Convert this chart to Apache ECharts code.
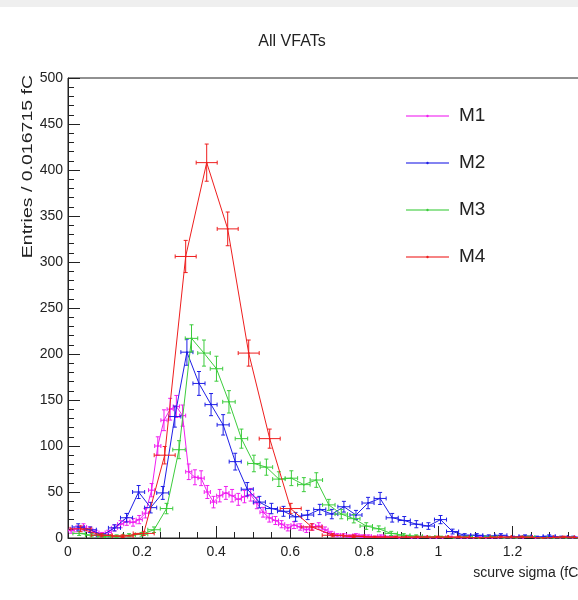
<!DOCTYPE html>
<html><head><meta charset="utf-8">
<script src="https://cdn.jsdelivr.net/npm/echarts@6/dist/echarts.min.js"></script>
<style>html,body{margin:0;padding:0;background:#fff}#c{width:578px;height:600px}</style>
</head><body><div id="c"></div>
<script>
// ---- data ----
const seriesNames = ['M1', 'M2', 'M3', 'M4'];
// bin contents (entries)
const m1Values = [8,10,12,9,6,4,6,11,15,18,17,20,27,52,100,128,140,143,133,72,66,65,50,39,46,49,46,42,45,47,38,28,22,19,15,11,14,12,9,12,13,9,5,3,3,2,3,2,2,1,2,1,1,0,1,0,0,1,0,0,0,1,0,0,0,0,1,0,0,0,0,0,0,0,1,0,0,0,0,0,0,0,0,0];
const m2Values = [12,9,3,11,22,50,33,49,132,202,168,145,123,83,53,39,32,29,23,25,31,26,34,25,38,43,22,19,15,13,20,7,3,3,2,3,1,2,1,2,1,1];
const m3Values = [5,3,2,2,3,4,9,32,96,217,201,184,148,108,81,77,64,65,58,63,36,26,21,13,10,5,3,2,1,1,0,1,0,1,0,0,1,0,0,0,0];
const m4Values = [10,3,2,5,90,306,408,336,201,108,32,12,3,2,1,1,1,1,1,0,1,1,0,1,0];
// first bin centre and bin width (fC) of each histogram
const binStart = [0.0084, 0.0276, 0.0301, 0.0342];
const binWidth = [0.016715, 0.0326, 0.0337, 0.0567];
const xTickLabels = ['0', '0.2', '0.4', '0.6', '0.8', '1', '1.2', '1.4'];
const yTickLabels = ['0','50','100','150','200','250','300','350','400','450','500'];

// ---- chart ----
const allValues = [m1Values, m2Values, m3Values, m4Values];
const colors = ['#f01ef0', '#1e1ee6', '#3ccc3c', '#ee1e1e'];
const NARROW = '"Liberation Sans Narrow","Arial Narrow","Liberation Sans",Arial,sans-serif';
const REG = '"Liberation Sans",Arial,sans-serif';

function points(k) {
  return allValues[k].map((v, i) => [binStart[k] + i * binWidth[k], v]);
}
function errData(k) {
  return allValues[k].map((v, i) => [binStart[k] + i * binWidth[k], v, binWidth[k] / 2, Math.sqrt(v)]);
}
function makeRender(color) {
  return function (params, api) {
    const x = api.value(0), y = api.value(1), xe = api.value(2), ye = api.value(3);
    const l = api.coord([x - xe, y]), r = api.coord([x + xe, y]);
    const t = api.coord([x, y + ye]), b = api.coord([x, y - ye]);
    const c = 2;
    const st = { stroke: color, lineWidth: 1, fill: null };
    const children = [
      { type: 'line', shape: { x1: l[0], y1: l[1], x2: r[0], y2: r[1] }, style: st },
      { type: 'line', shape: { x1: l[0], y1: l[1] - c, x2: l[0], y2: l[1] + c }, style: st },
      { type: 'line', shape: { x1: r[0], y1: r[1] - c, x2: r[0], y2: r[1] + c }, style: st }
    ];
    if (ye > 0) {
      children.push(
        { type: 'line', shape: { x1: t[0], y1: t[1], x2: b[0], y2: b[1] }, style: st },
        { type: 'line', shape: { x1: t[0] - c, y1: t[1], x2: t[0] + c, y2: t[1] }, style: st },
        { type: 'line', shape: { x1: b[0] - c, y1: b[1], x2: b[0] + c, y2: b[1] }, style: st }
      );
    }
    return { type: 'group', children: children };
  };
}

const series = [];
seriesNames.forEach((name, k) => {
  series.push({
    name: name, type: 'line', data: points(k), symbol: 'circle', symbolSize: 2,
    showSymbol: true, lineStyle: { color: colors[k], width: 1 }, itemStyle: { color: colors[k] },
    clip: true, animation: false, z: 2 + k * 2
  });
  series.push({
    name: name + ' err', type: 'custom', data: errData(k), renderItem: makeRender(colors[k]),
    clip: true, animation: false, z: 3 + k * 2
  });
});

const chart = echarts.init(document.getElementById('c'), null, { renderer: 'canvas' });
chart.setOption({
  backgroundColor: '#fff',
  animation: false,
  grid: { left: 68, top: 78, width: 518.6, height: 460, show: true, borderColor: '#222', borderWidth: 1, outerBoundsMode: 'none', containLabel: false },
  legend: {
    data: seriesNames, orient: 'vertical', left: 405, top: 106, padding: 0,
    itemWidth: 43, itemHeight: 3, itemGap: 27,
    textStyle: { fontFamily: NARROW, fontSize: 19, color: '#222', lineHeight: 20, padding: [0, 0, 0, 5] },
    lineStyle: { width: 2, opacity: 0.55 }
  },
  xAxis: {
    type: 'value', min: 0, max: 1.4, interval: 0.2,
    axisLine: { show: true, onZero: false, lineStyle: { color: '#222', width: 1 } },
    axisTick: { show: true, inside: true, length: 12, lineStyle: { color: '#222' } },
    minorTick: { show: true, splitNumber: 4, length: 6, lineStyle: { color: '#222' } },
    splitLine: { show: false }, minorSplitLine: { show: false },
    axisLabel: { margin: 7, fontFamily: NARROW, fontSize: 14, color: '#222', showMaxLabel: false,
      formatter: v => xTickLabels[Math.round(v / 0.2)] || '' }
  },
  yAxis: {
    type: 'value', min: 0, max: 500, interval: 50,
    axisLine: { show: true, lineStyle: { color: '#222', width: 1 } },
    axisTick: { show: true, inside: true, length: 12, lineStyle: { color: '#222' } },
    minorTick: { show: true, splitNumber: 5, length: 6, lineStyle: { color: '#222' } },
    splitLine: { show: false }, minorSplitLine: { show: false },
    axisLabel: { margin: 5, fontFamily: NARROW, fontSize: 14, color: '#222',
      formatter: v => yTickLabels[Math.round(v / 50)] || '' }
  },
  graphic: [
    { type: 'rect', shape: { x: 0, y: 0, width: 578, height: 7 }, style: { fill: '#efefef' }, silent: true },
    { type: 'text', x: 292, y: 42, style: { text: 'All VFATs', align: 'center', verticalAlign: 'middle', fontFamily: NARROW, fontSize: 16, fill: '#222' } },
    { type: 'text', x: 28, y: 75, rotation: Math.PI / 2, scaleX: 1.3, style: { text: 'Entries / 0.016715 fC', align: 'right', verticalAlign: 'middle', fontFamily: REG, fontSize: 15, fill: '#222' } },
    { type: 'text', x: 583, y: 573, style: { text: 'scurve sigma (fC)', align: 'right', verticalAlign: 'middle', fontFamily: NARROW, fontSize: 14, fill: '#222' } }
  ],
  series: series
});
</script></body></html>
